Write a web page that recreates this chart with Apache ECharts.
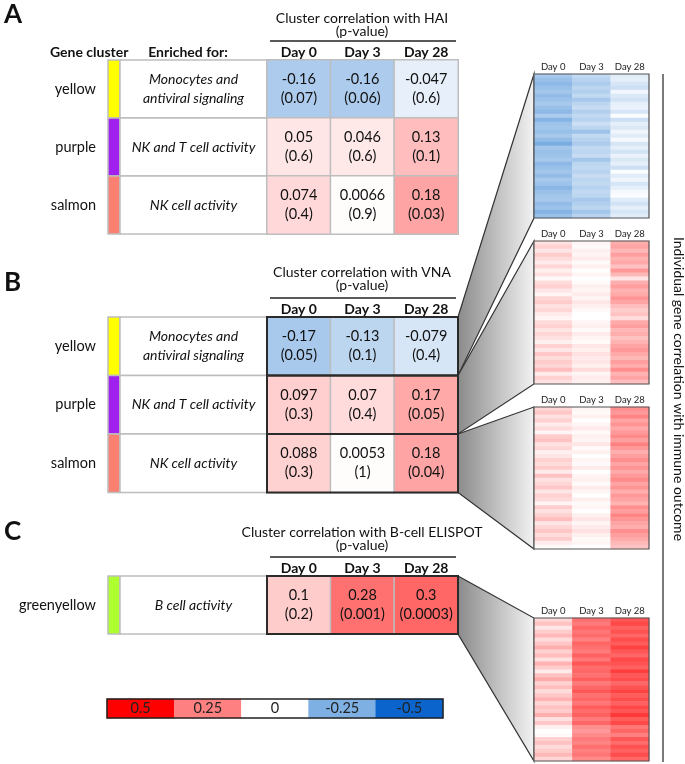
<!DOCTYPE html>
<html>
<head>
<meta charset="utf-8">
<script src="https://cdn.jsdelivr.net/npm/echarts@6/dist/echarts.min.js"></script>
<style>
  html, body { margin: 0; padding: 0; background: #fff; }
  #chart { width: 685px; height: 764px; }
</style>
</head>
<body>
<div id="chart"></div>
<script>
const FONT = 'Lato, "Noto Sans", sans-serif';

// ---- data ----
const days = ['Day 0', 'Day 3', 'Day 28'];
const clusters = ['yellow', 'purple', 'salmon'];
const enrichedFor = ['Monocytes and\nantiviral signaling', 'NK and T cell activity', 'NK cell activity'];
const haiR = [[-0.16, -0.16, -0.047], [0.05, 0.046, 0.13], [0.074, 0.0066, 0.18]];
const haiP = [[0.07, 0.06, 0.6], [0.6, 0.6, 0.1], [0.4, 0.9, 0.03]];
const vnaR = [[-0.17, -0.13, -0.079], [0.097, 0.07, 0.17], [0.088, 0.0053, 0.18]];
const vnaP = [[0.05, 0.1, 0.4], [0.3, 0.4, 0.05], [0.3, 1, 0.04]];
const elispotClusters = ['greenyellow'];
const elispotEnriched = ['B cell activity'];
const elispotR = [[0.1, 0.28, 0.3]];
const elispotP = [[0.2, 0.001, 0.0003]];
const scaleTicks = [0.5, 0.25, 0, -0.25, -0.5];

// individual genes, [day0, day3, day28]
const geneYellow = [
  [-0.17, -0.12, -0.06], [-0.2, -0.14, -0.05], [-0.22, -0.16, -0.08], [-0.2, -0.13, -0.1],
  [-0.18, -0.15, -0.03], [-0.21, -0.12, -0.07], [-0.19, -0.17, -0.09], [-0.17, -0.13, -0.05],
  [-0.2, -0.11, -0.04], [-0.22, -0.15, -0.08], [-0.16, -0.12, -0.01], [-0.24, -0.14, -0.1],
  [-0.19, -0.1, -0.05], [-0.18, -0.13, -0.07], [-0.2, -0.19, -0.03], [-0.17, -0.12, -0.06],
  [-0.21, -0.14, -0.02], [-0.26, -0.16, -0.08], [-0.18, -0.12, -0.05], [-0.2, -0.13, -0.09],
  [-0.19, -0.11, -0.04], [-0.17, -0.18, -0.07], [-0.22, -0.13, -0.05], [-0.2, -0.12, -0.1],
  [-0.18, -0.14, -0.01], [-0.21, -0.11, -0.06], [-0.17, -0.13, -0.03], [-0.19, -0.12, -0.08],
  [-0.23, -0.14, -0.05], [-0.2, -0.12, -0.02], [-0.18, -0.13, -0.01], [-0.17, -0.17, -0.06],
  [-0.21, -0.15, -0.09], [-0.19, -0.13, -0.05], [-0.24, -0.18, -0.08], [-0.2, -0.14, -0.06]
];
const genePurple = [
  [0.06, 0.02, 0.16], [0.09, 0.01, 0.18], [0.05, 0.03, 0.14], [0.1, 0.02, 0.19],
  [0.07, 0.04, 0.15], [0.04, 0.01, 0.17], [0.08, 0.03, 0.12], [0.03, 0.0, 0.2],
  [0.06, 0.02, 0.14], [0.01, 0.0, 0.05], [0.07, 0.01, 0.16], [0.09, 0.03, 0.19],
  [0.05, 0.02, 0.15], [0.02, 0.04, 0.17], [0.08, 0.02, 0.21], [0.1, 0.05, 0.18],
  [0.06, 0.03, 0.13], [0.08, 0.01, 0.1], [0.04, 0.0, 0.12], [0.02, 0.0, 0.07],
  [0.07, 0.02, 0.17], [0.09, 0.03, 0.19], [0.05, 0.01, 0.14], [0.08, 0.04, 0.16],
  [0.06, 0.02, 0.12], [0.03, 0.01, 0.15], [0.09, 0.05, 0.18], [0.05, 0.03, 0.2],
  [0.11, 0.06, 0.17], [0.07, 0.04, 0.14], [0.1, 0.05, 0.19], [0.08, 0.03, 0.16],
  [0.13, 0.07, 0.22], [0.04, 0.02, 0.15], [0.09, 0.04, 0.18], [0.06, 0.03, 0.13]
];
const geneSalmon = [
  [0.08, 0.02, 0.22], [0.11, 0.01, 0.2], [0.06, 0.03, 0.24], [0.09, 0.0, 0.18],
  [0.04, 0.02, 0.21], [0.07, 0.04, 0.17], [0.02, 0.01, 0.2], [0.1, 0.03, 0.23],
  [0.12, 0.02, 0.19], [0.06, 0.05, 0.25], [0.08, 0.01, 0.2], [0.03, 0.03, 0.16],
  [0.05, 0.0, 0.19], [0.09, 0.02, 0.22], [0.07, 0.01, 0.18], [0.1, 0.04, 0.21],
  [0.04, 0.0, 0.17], [0.12, 0.02, 0.2], [0.06, 0.03, 0.23], [0.08, 0.01, 0.18],
  [0.11, 0.04, 0.21], [0.05, 0.02, 0.16], [0.09, 0.0, 0.2], [0.07, 0.03, 0.18],
  [0.02, 0.01, 0.15], [0.1, 0.02, 0.22], [0.06, 0.0, 0.19], [0.09, 0.03, 0.24],
  [0.13, 0.05, 0.21], [0.05, 0.02, 0.18], [0.08, 0.04, 0.16], [0.11, 0.06, 0.22],
  [0.07, 0.03, 0.19], [0.1, 0.01, 0.17], [0.04, 0.02, 0.14], [0.01, 0.0, 0.12]
];
const geneGreenyellow = [
  [0.08, 0.28, 0.33], [0.12, 0.26, 0.36], [0.05, 0.3, 0.31], [0.1, 0.27, 0.34],
  [0.14, 0.29, 0.3], [0.07, 0.25, 0.35], [0.11, 0.3, 0.32], [0.16, 0.28, 0.37],
  [0.09, 0.26, 0.33], [0.13, 0.31, 0.3], [0.06, 0.27, 0.36], [0.15, 0.33, 0.34],
  [0.1, 0.29, 0.31], [0.04, 0.3, 0.38], [0.12, 0.28, 0.33], [0.17, 0.32, 0.35],
  [0.09, 0.26, 0.3], [0.13, 0.3, 0.34], [0.07, 0.33, 0.37], [0.11, 0.28, 0.32],
  [0.15, 0.3, 0.35], [0.08, 0.27, 0.31], [0.12, 0.32, 0.36], [0.1, 0.29, 0.33],
  [0.16, 0.31, 0.39], [0.06, 0.26, 0.32], [0.11, 0.3, 0.36], [0.03, 0.22, 0.27],
  [0.0, 0.2, 0.3], [0.01, 0.23, 0.25], [0.09, 0.26, 0.33], [0.12, 0.24, 0.29],
  [0.07, 0.28, 0.34], [0.1, 0.25, 0.31], [0.14, 0.27, 0.35], [0.08, 0.23, 0.3]
];

// ---- styles ----
const stripColor = { yellow: '#ffff00', purple: '#a020f0', salmon: '#fa8072', greenyellow: '#adff2f' };
const cellBorder = '#bdbdbd';

const grids = [], xAxis = [], yAxis = [], series = [], heatIdx = [], graphics = [];

function addGrid(box) {
  grids.push(Object.assign({ outerBoundsMode: 'none', containLabel: false }, box));
  return grids.length - 1;
}

function cell(api, fill, text) {
  const c = api.coord([api.value(0), api.value(1)]);
  const s = api.size([1, 1]);
  const children = [{
    type: 'rect',
    shape: { x: c[0] - s[0] / 2, y: c[1] - s[1] / 2, width: s[0], height: s[1] },
    style: { fill: fill, stroke: cellBorder, lineWidth: 1.5 }
  }];
  if (text) {
    children.push({
      type: 'text', x: c[0], y: c[1],
      style: { text: text, fontSize: 14, fontStyle: 'italic', fontFamily: FONT, fill: '#111',
               align: 'center', verticalAlign: 'middle', lineHeight: 19 }
    });
  }
  return { type: 'group', children: children };
}

function addTable(names, enriched, r, p, top, rowH, outlined) {
  const h = names.length * rowH;
  let g = addGrid({ left: 108, top: top, width: 12, height: h });
  xAxis.push({ type: 'category', gridIndex: g, data: ['strip'], show: false });
  yAxis.push({ type: 'category', gridIndex: g, data: names, inverse: true,
    axisLine: { show: false }, axisTick: { show: false },
    axisLabel: { fontSize: 14.5, color: '#111', fontFamily: FONT, margin: 12 } });
  series.push({ type: 'custom', xAxisIndex: g, yAxisIndex: g, data: names.map((n, i) => [0, i]),
    renderItem: (params, api) => cell(api, stripColor[names[params.dataIndex]]) });

  g = addGrid({ left: 120, top: top, width: 147, height: h });
  xAxis.push({ type: 'category', gridIndex: g, data: ['enriched'], show: false });
  yAxis.push({ type: 'category', gridIndex: g, data: names, inverse: true, show: false });
  series.push({ type: 'custom', xAxisIndex: g, yAxisIndex: g, data: names.map((n, i) => [0, i]),
    renderItem: (params, api) => cell(api, '#ffffff', enriched[params.dataIndex]) });

  g = addGrid({ left: 267, top: top, width: 191, height: h });
  xAxis.push({ type: 'category', gridIndex: g, data: days, position: 'top',
    axisLine: { show: false }, axisTick: { show: false },
    axisLabel: { interval: 0, fontSize: 14, fontWeight: 'bold', color: '#111', fontFamily: FONT, margin: 1 } });
  yAxis.push({ type: 'category', gridIndex: g, data: names, inverse: true, show: false });
  const data = [];
  r.forEach((row, i) => row.forEach((v, j) => data.push([j, i, v])));
  heatIdx.push(series.length);
  series.push({ type: 'heatmap', xAxisIndex: g, yAxisIndex: g, data: data,
    itemStyle: { borderColor: cellBorder, borderWidth: 1.5 },
    emphasis: { disabled: true },
    label: { show: true, fontSize: 14.5, lineHeight: 19, color: '#111', fontFamily: FONT,
      formatter: (prm) => prm.value[2] + '\n(' + p[prm.value[1]][prm.value[0]] + ')' } });
  if (outlined) {
    series.push({ type: 'custom', xAxisIndex: g, yAxisIndex: g, z: 5, data: names.map((n, i) => [1, i]),
      renderItem: (params, api) => {
        const c = api.coord([1, api.value(1)]);
        const s = api.size([1, 1]);
        return { type: 'rect',
          shape: { x: c[0] - 1.5 * s[0], y: c[1] - s[1] / 2, width: 3 * s[0], height: s[1] },
          style: { fill: 'none', stroke: '#2b2b2b', lineWidth: 2 } };
      } });
  }
}

function addGeneMap(rows, top, height) {
  const g = addGrid({ left: 534, top: top, width: 115, height: height });
  xAxis.push({ type: 'category', gridIndex: g, data: days, position: 'top',
    axisLine: { show: false }, axisTick: { show: false },
    axisLabel: { interval: 0, fontSize: 9.5, color: '#222', fontFamily: FONT, margin: 2 } });
  yAxis.push({ type: 'category', gridIndex: g, data: rows.map((r, i) => 'g' + i), inverse: true, show: false });
  const data = [];
  rows.forEach((row, i) => row.forEach((v, j) => data.push([j, i, v])));
  heatIdx.push(series.length);
  series.push({ type: 'heatmap', xAxisIndex: g, yAxisIndex: g, data: data, emphasis: { disabled: true } });
  graphics.push({ type: 'rect', z: 100, shape: { x: 534, y: top, width: 115, height: height },
    style: { fill: 'none', stroke: '#555', lineWidth: 1.2 } });
}

// table layout
const tA = { top: 60, rowH: 58 };
const tB = { top: 317, rowH: 58.5 };
const tC = { top: 576, rowH: 58 };
addTable(clusters, enrichedFor, haiR, haiP, tA.top, tA.rowH, false);
addTable(clusters, enrichedFor, vnaR, vnaP, tB.top, tB.rowH, true);
addTable(elispotClusters, elispotEnriched, elispotR, elispotP, tC.top, tC.rowH, true);

const maps = [
  { rows: geneYellow, top: 74, h: 144, from: tB.top, to: tB.top + tB.rowH },
  { rows: genePurple, top: 241, h: 143, from: tB.top + tB.rowH, to: tB.top + 2 * tB.rowH },
  { rows: geneSalmon, top: 407, h: 142, from: tB.top + 2 * tB.rowH, to: tB.top + 3 * tB.rowH },
  { rows: geneGreenyellow, top: 618, h: 143, from: tC.top, to: tC.top + tC.rowH }
];
maps.forEach(m => {
  addGeneMap(m.rows, m.top, m.h);
  graphics.push({ type: 'polygon', z: 0,
    shape: { points: [[458, m.from], [534, m.top], [534, m.top + m.h], [458, m.to]] },
    style: { fill: new echarts.graphic.LinearGradient(0, 0, 1, 0, [
      { offset: 0, color: '#8a8a8a' }, { offset: 1, color: '#f3f3f3' }]),
      stroke: '#333', lineWidth: 1.2 } });
});

// colour scale
{
  const g = addGrid({ left: 107, top: 699, width: 336, height: 19 });
  xAxis.push({ type: 'category', gridIndex: g, data: scaleTicks.map(String), show: false });
  yAxis.push({ type: 'category', gridIndex: g, data: ['scale'], show: false });
  heatIdx.push(series.length);
  series.push({ type: 'heatmap', xAxisIndex: g, yAxisIndex: g, emphasis: { disabled: true },
    data: scaleTicks.map((v, i) => [i, 0, v]),
    label: { show: true, fontSize: 14.5, color: '#222', fontFamily: FONT, formatter: (prm) => String(prm.value[2]) } });
  graphics.push({ type: 'rect', z: 100, shape: { x: 107, y: 699, width: 336, height: 19 },
    style: { fill: 'none', stroke: '#222', lineWidth: 1.5 } });
}

function txt(text, x, y, extra) {
  graphics.push({ type: 'text', x: x, y: y, z: 50,
    style: Object.assign({ text: text, fontSize: 14, fontFamily: FONT, fill: '#111',
      align: 'center', verticalAlign: 'middle' }, extra || {}) });
}
txt('A', 4, 15, { fontSize: 26, fontWeight: 'bold', align: 'left' });
txt('B', 4, 283, { fontSize: 26, fontWeight: 'bold', align: 'left' });
txt('C', 4, 532, { fontSize: 26, fontWeight: 'bold', align: 'left' });
txt('Gene cluster', 50, 52, { fontWeight: 'bold', align: 'left' });
txt('Enriched for:', 188, 52, { fontWeight: 'bold' });
const titles = [
  ['Cluster correlation with HAI', 18, 41],
  ['Cluster correlation with VNA', 272, 298],
  ['Cluster correlation with B-cell ELISPOT', 532, 557]
];
titles.forEach(t => {
  txt(t[0], 362, t[1]);
  txt('(p-value)', 362, t[1] + 13);
  graphics.push({ type: 'line', z: 50, shape: { x1: 270, y1: t[2], x2: 456, y2: t[2] },
    style: { stroke: '#222', lineWidth: 1.3 } });
});
graphics.push({ type: 'line', z: 50, shape: { x1: 663, y1: 74, x2: 663, y2: 762 },
  style: { stroke: '#333', lineWidth: 1.3 } });
graphics.push({ type: 'text', x: 679, y: 389, rotation: -Math.PI / 2, z: 50,
  style: { text: 'Individual gene correlation with immune outcome', fontSize: 14, fontFamily: FONT,
    fill: '#111', align: 'center', verticalAlign: 'middle' } });

const chart = echarts.init(document.getElementById('chart'), null, { renderer: 'canvas' });
chart.setOption({
  animation: false,
  backgroundColor: '#ffffff',
  grid: grids,
  xAxis: xAxis,
  yAxis: yAxis,
  visualMap: {
    type: 'continuous', show: false, min: -0.5, max: 0.5, dimension: 2, seriesIndex: heatIdx,
    inRange: { color: ['#0a64cc', '#7fb0e3', '#ffffff', '#ff8080', '#ff0000'] }
  },
  graphic: graphics,
  series: series
});
</script>
</body>
</html>
